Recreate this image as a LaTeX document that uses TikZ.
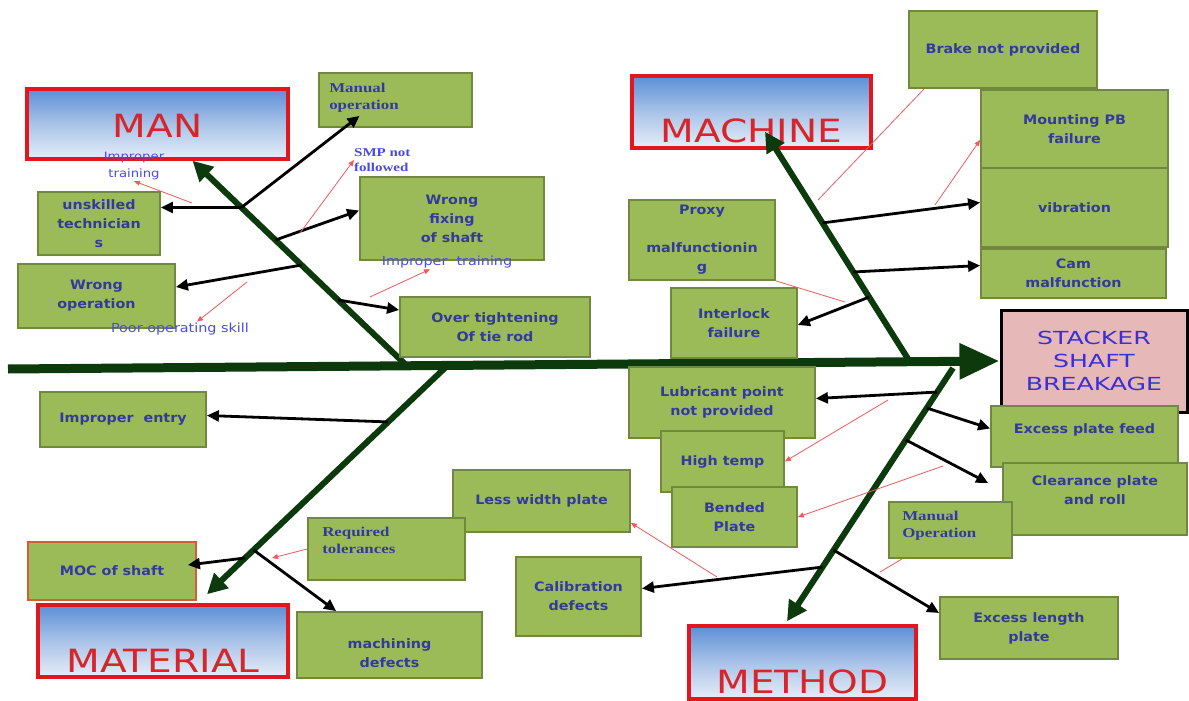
\documentclass[tikz,border=0pt]{standalone}
\usepackage{fontspec}
\usepackage{xcolor}
\usepackage{tikz}
\usetikzlibrary{arrows.meta, calc, positioning}

\setmainfont{DejaVu Sans}
\newfontfamily\causefont[FakeStretch=1.1]{DejaVu Sans}
\newfontfamily\catfont[FakeStretch=1.22]{DejaVu Sans}
\newfontfamily\effectfont[FakeStretch=1.4]{DejaVu Sans}
\newfontfamily\notefont[FakeStretch=1.15]{DejaVu Sans}
\newfontfamily\oldfont[FakeStretch=1.25]{Liberation Serif}

\definecolor{causefill}{HTML}{9BBB59}
\definecolor{causeline}{HTML}{71893F}
\definecolor{causetext}{HTML}{34399E}
\definecolor{mocline}{HTML}{D2602F}
\definecolor{catred}{HTML}{E3161E}
\definecolor{cattext}{HTML}{D7262B}
\definecolor{catblue}{HTML}{5B8FD6}
\definecolor{catmid}{HTML}{A9C3E8}
\definecolor{catlight}{HTML}{E6EEF8}
\definecolor{effectfill}{HTML}{E6B9B8}
\definecolor{effecttext}{HTML}{3A2FD8}
\definecolor{notetext}{HTML}{4A4AEA}
\definecolor{bonegreen}{HTML}{0C3A0C}
\definecolor{redline}{HTML}{F05A5A}

\begin{document}
\begin{tikzpicture}[
    x=1pt, y=-1pt,
    % boxes
    cause/.style={draw=causeline, line width=1.8pt, fill=causefill, text=causetext, align=center, inner sep=2pt, font=\causefont\bfseries\fontsize{13}{19}\selectfont},
    causetxt/.style={text=causetext, align=center, inner sep=0pt, font=\causefont\bfseries\fontsize{13}{19}\selectfont},
    oldtxt/.style={text=causetext, align=left, inner sep=0pt, font=\oldfont\bfseries\fontsize{13.5}{17}\selectfont},
    category/.style={draw=catred, line width=3.5pt, top color=catblue, bottom color=catlight, middle color=catmid, text=cattext, inner sep=0pt, font=\catfont\fontsize{32}{38}\selectfont},
    cattxt/.style={text=cattext, inner sep=0pt, font=\catfont\fontsize{32}{38}\selectfont},
    effect/.style={draw=black, line width=3pt, fill=effectfill, text=effecttext, align=center, inner sep=2pt, font=\effectfont\fontsize{18}{23}\selectfont},
    note/.style={text=notetext, align=center, inner sep=1pt, font=\notefont\fontsize{12.5}{17}\selectfont},
    % lines
    spine/.style={line width=9pt, draw=bonegreen, -{Triangle[length=40pt, width=34pt]}},
    bone/.style={line width=6pt, draw=bonegreen, -{Triangle[length=20pt, width=20pt]}},
    branch/.style={line width=2.8pt, -{Triangle[length=12pt, width=11pt]}},
    note arrow/.style={line width=0.8pt, draw=redline, -{Triangle[length=6pt, width=5pt]}},
    note line/.style={line width=0.8pt, draw=redline}
]
\path[use as bounding box, fill=white] (0,0) rectangle (1189,701);

% ========== CATEGORIES ==========
\node[category, minimum width=261pt, minimum height=70pt, label={[cattxt, yshift=-2pt]center:MAN}] (man) at (157.5,124) {};
\node[category, minimum width=239pt, minimum height=72pt, label={[cattxt, anchor=south, yshift=6.5pt]south:MACHINE}] (machine) at (751.5,112) {};
\node[category, minimum width=250pt, minimum height=72pt, label={[cattxt, anchor=south, yshift=6pt]south:MATERIAL}] (material) at (163,641) {};
\node[category, minimum width=227pt, minimum height=73pt, label={[cattxt, anchor=south, yshift=7pt]south:METHOD}] (method) at (802.5,662.5) {};

% effect
\node[effect, minimum width=186pt, minimum height=102pt] (effect) at (1094,361) {STACKER\\SHAFT\\BREAKAGE};

% ========== SPINE AND BONES ==========
\coordinate (tail) at (8,369);
\draw[spine] (tail) -- (effect.west);

\coordinate (manroot) at (405,364);
\coordinate (mantip) at ([xshift=35pt]man.south);
\coordinate (machineroot) at (910,362);
\coordinate (machinetip) at ([xshift=13.5pt, yshift=18pt]machine.south);
\coordinate (materialroot) at (447,366);
\coordinate (materialtip) at ([xshift=44pt, yshift=9pt]material.north);
\coordinate (methodroot) at (953,368);
\coordinate (methodtip) at ([xshift=-15.5pt, yshift=3pt]method.north);

\draw[bone] (manroot) -- (mantip);
\draw[bone] (machineroot) -- (machinetip);
\draw[bone] (materialroot) -- (materialtip);
\draw[bone] (methodroot) -- (methodtip);

% ========== MAN ==========
\node[cause, minimum width=153pt, minimum height=54pt, label={[oldtxt, anchor=north west, xshift=11pt, yshift=-11pt]north west:{Manual\\operation}}] (manualop1) at (395.5,100) {};
\node[cause, minimum width=122pt, minimum height=63pt] (unskilled) at (99,223.5) {unskilled\\technician\\s};
\node[cause, minimum width=157pt, minimum height=64pt] (wrongop) at (96.5,296) {Wrong\\operation};
\node[cause, minimum width=184pt, minimum height=83pt] (wrongfix) at (452,218.5) {Wrong\\fixing\\of shaft};
\node[cause, minimum width=190pt, minimum height=60pt] (overtight) at (495,327) {Over tightening\\Of tie rod};

% ========== MACHINE ==========
\node[cause, minimum width=188pt, minimum height=77pt] (brake) at (1003,49.5) {Brake not provided};
\node[cause, minimum width=187pt, minimum height=78pt] (mounting) at (1074.5,129) {Mounting PB\\failure};
\node[cause, minimum width=187pt, minimum height=79pt] (vibration) at (1074.5,207.5) {vibration};
\node[cause, minimum width=185pt, minimum height=49pt] (cam) at (1073.5,273.5) {Cam\\malfunction};
\node[cause, minimum width=146pt, minimum height=80pt] (proxy) at (702,240) {Proxy\\[19pt]malfunctionin\\g};
\node[cause, minimum width=126pt, minimum height=70pt] (interlock) at (734,323) {Interlock\\failure};

% ========== METHOD ==========
\node[cause, minimum width=186pt, minimum height=71pt] (lubricant) at (722,402.5) {Lubricant point\\not provided};
\node[cause, minimum width=123pt, minimum height=61pt] (hightemp) at (722.5,461.5) {High temp};
\node[cause, minimum width=125pt, minimum height=60pt] (bended) at (734.5,517) {Bended\\Plate};
\node[cause, minimum width=177pt, minimum height=62pt] (lesswidth) at (541.5,501) {Less width plate};
\node[cause, minimum width=125pt, minimum height=79pt] (calibration) at (578.5,596.5) {Calibration\\defects};
\node[cause, minimum width=187pt, minimum height=61pt, label={[causetxt, anchor=north, yshift=-18pt]north:Excess plate feed}] (platefeed) at (1084.5,436.5) {};
\node[cause, minimum width=184pt, minimum height=72pt, label={[causetxt, anchor=north, yshift=-13pt]north:{Clearance plate\\and roll}}] (clearance) at (1095,499) {};
\node[cause, minimum width=123pt, minimum height=56pt, label={[oldtxt, anchor=north west, xshift=14pt, yshift=-10pt]north west:{Manual\\Operation}}] (manualop2) at (950.5,530) {};
\node[cause, minimum width=178pt, minimum height=62pt] (excesslength) at (1029,628) {Excess length\\plate};

% ========== MATERIAL ==========
\node[cause, minimum width=166pt, minimum height=55pt] (entry) at (123,419.5) {Improper\ \ entry};
\node[cause, draw=mocline, minimum width=168pt, minimum height=58pt] (moc) at (112,571) {MOC of shaft};
\node[cause, minimum width=157pt, minimum height=62pt, label={[oldtxt, anchor=north west, xshift=15pt, yshift=-10pt]north west:{Required\\tolerances}}] (tolerances) at (386.5,549) {};
\node[cause, minimum width=185pt, minimum height=66pt, label={[causetxt, anchor=south, yshift=11pt]south:{machining\\defects}}] (machining) at (389.5,645) {};

% ========== NOTES ==========
\node[note, font=\notefont\fontsize{11.5}{17}\selectfont] (imptrain1) at (134,166) {Improper\\training};
\node[oldtxt, anchor=west, text=notetext, font=\oldfont\bfseries\fontsize{12}{15}\selectfont] (smp) at (354,160) {SMP not\\followed};
\node[note] (imptrain2) at (447,262) {Improper\ \ training};
\node[note] (poorskill) at (180,329) {Poor operating skill};

% ========== BRANCHES ==========
% man
\coordinate (ma) at ($(manroot)!0.77!(mantip)$);
\coordinate (mb) at ($(manroot)!0.61!(mantip)$);
\coordinate (mc) at ($(manroot)!0.487!(mantip)$);
\coordinate (md) at ($(manroot)!0.315!(mantip)$);
\draw[branch] (ma) -- ([yshift=16pt]unskilled.east);
\draw[branch] (ma) -- ([xshift=-36pt, yshift=12pt]manualop1.south);
\draw[branch] (mb) -- ([yshift=8pt]wrongfix.west);
\draw[branch] (mc) -- ([yshift=9pt]wrongop.east);
\draw[branch] (md) -- ([yshift=17pt]overtight.west);

% machine
\coordinate (mva) at ($(machineroot)!0.604!(machinetip)$);
\coordinate (mvb) at ($(machineroot)!0.391!(machinetip)$);
\coordinate (mvc) at ($(machineroot)!0.282!(machinetip)$);
\draw[branch] (mva) -- ([yshift=5pt]vibration.west);
\draw[branch] (mvb) -- ([yshift=8pt]cam.west);
\draw[branch] (mvc) -- ([yshift=-2pt]interlock.east);

% method
\coordinate (mta) at ($(methodroot)!0.095!(methodtip)$);
\coordinate (mtb) at ($(methodroot)!0.158!(methodtip)$);
\coordinate (mtc) at ($(methodroot)!0.284!(methodtip)$);
\coordinate (mtd) at ($(methodroot)!0.719!(methodtip)$);
\coordinate (mte) at ($(methodroot)!0.786!(methodtip)$);
\draw[branch] (mta) -- ([yshift=4pt]lubricant.east);
\draw[branch] (mtb) -- ([yshift=8pt]platefeed.west);
\draw[branch] (mtc) -- ([xshift=-14pt, yshift=16pt]clearance.west);
\draw[branch] (mte) -- ([yshift=8pt]calibration.east);
\draw[branch] (mtd) -- ([yshift=15pt]excesslength.west);

% material
\coordinate (mla) at ($(materialroot)!0.245!(materialtip)$);
\coordinate (mlb) at ($(materialroot)!0.806!(materialtip)$);
\coordinate (mlc) at ($(materialroot)!0.841!(materialtip)$);
\draw[branch] (mla) -- ([yshift=4pt]entry.east);
\draw[branch] (mlc) -- ([xshift=-9pt, yshift=6pt]moc.east);
\draw[branch] (mlb) -- ([xshift=40pt]machining.north west);

% ========== RED SUB-CAUSES ==========
\coordinate (ra) at (192,203);
\coordinate (rb) at (300,233);
\coordinate (rc) at (370,297);
\coordinate (rd) at (247,282);
\draw[note arrow] (ra) -- (imptrain1.south);
\draw[note arrow] (rb) -- (smp.west);
\draw[note arrow] (rc) -- ([xshift=-17pt]imptrain2.south);
\draw[note arrow] (rd) -- ([xshift=17pt]poorskill.north);

\coordinate (rbrake) at (818,200);
\coordinate (rmount) at (935,205);
\coordinate (rproxy) at (845,302);
\draw[note line] (rbrake) -- ([xshift=16pt]brake.south west);
\draw[note arrow] (rmount) -- ([yshift=-11pt]mounting.west);
\draw[note line] (proxy.south east) -- (rproxy);

\coordinate (rhigh) at (888,400);
\coordinate (rbend) at (943,466);
\coordinate (rless) at (717,577);
\coordinate (rmanual) at (880,572);
\draw[note arrow] (rhigh) -- (hightemp.east);
\draw[note arrow] (rbend) -- (bended.east);
\draw[note arrow] (rless) -- ([yshift=10pt]lesswidth.south east);
\draw[note line] ([xshift=14pt]manualop2.south west) -- (rmanual);

\coordinate (rtol) at (272,558);
\draw[note arrow] (tolerances.west) -- (rtol);

\end{tikzpicture}
\end{document}
